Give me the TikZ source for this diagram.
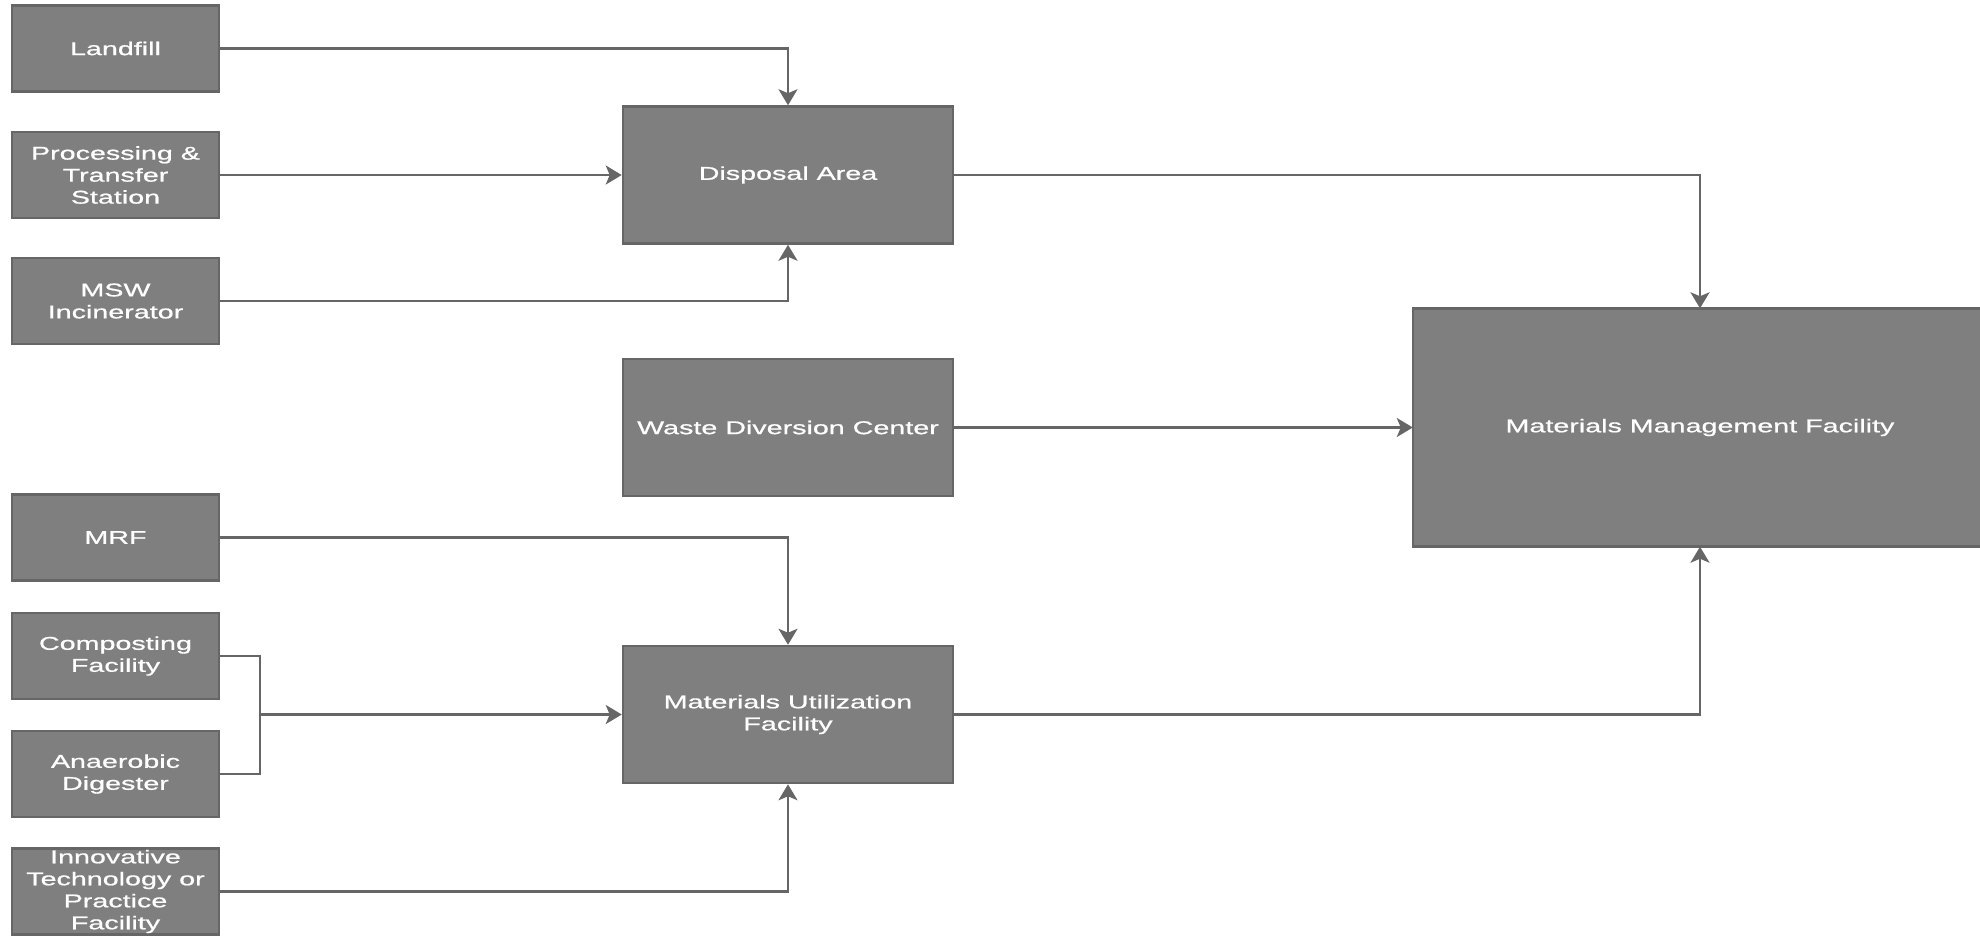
\documentclass[tikz,border=0pt]{standalone}
\usepackage{fontspec}
\setmainfont{Liberation Sans}[FakeStretch=1.55,FakeBold=0.8]
\usetikzlibrary{positioning,arrows.meta}

\definecolor{boxgray}{RGB}{127,127,127}
\definecolor{edgegray}{RGB}{102,102,102}

\begin{document}
\begin{tikzpicture}[x=1pt,y=-1pt,>={Stealth[length=16pt,width=19pt,inset=4pt]},
  every node/.style={font=\fontsize{18.5}{22}\selectfont,text=white,align=center},
  facility/.style={draw=edgegray,line width=2.5pt,fill=boxgray,minimum width=207pt,minimum height=86pt,inner sep=0pt},
  hub/.style={facility,minimum width=330pt,minimum height=137pt},
  flow/.style={->,draw=edgegray,line width=2.5pt}]

\useasboundingbox (0,0) rectangle (1980,935);

% sources on the left
\node[facility] (landfill) at (115.5,48.5) {Landfill};
\node[facility] (transfer) at (115.5,175) {Processing \&\\Transfer\\Station};
\node[facility] (incin) at (115.5,301) {MSW\\Incinerator};
\node[facility] (mrf) at (115.5,537.5) {MRF};
\node[facility] (compost) at (115.5,656) {Composting\\Facility};
\node[facility] (digest) at (115.5,774) {Anaerobic\\Digester};
\node[facility] (innov) at (115.5,891.5) {Innovative\\Technology or\\Practice\\Facility};

% middle column
\node[hub] (disposal) at (788,175) {Disposal Area};
\node[hub] (divert) at (788,427.5) {Waste Diversion Center};
\node[hub] (utilize) at (788,714.5) {Materials Utilization\\Facility};

% main facility, runs past the right edge
\filldraw[fill=boxgray,draw=edgegray,line width=2.5pt] (1413,308.5) rectangle (2010,546.5);
\node[minimum width=574pt,minimum height=238pt,inner sep=0pt] (mmf) at (1700,427.5) {Materials Management Facility};

\coordinate (merge) at (260,714.5);

\draw[flow] (landfill) -| (disposal);
\draw[flow] (transfer) -- (disposal);
\draw[flow] (incin) -| (disposal);

\draw[flow] (mrf) -| (utilize);
\draw[draw=edgegray,line width=2.5pt] (compost) -| (merge) |- (digest);
\draw[flow] (merge) -- (utilize);
\draw[flow] (innov) -| (utilize);

\draw[flow] (disposal) -| (mmf);
\draw[flow] (divert) -- (mmf);
\draw[flow] (utilize) -| (mmf);

\end{tikzpicture}
\end{document}
